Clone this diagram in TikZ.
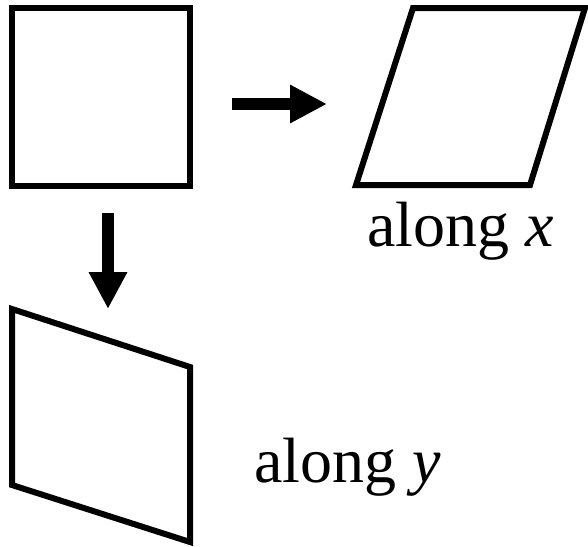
\documentclass[tikz,border=0pt]{standalone}
\usepackage{fontspec}
\setmainfont{Liberation Serif}
\usetikzlibrary{arrows.meta}

\tikzset{
  outline/.style={draw=black, line width=3pt, line join=miter},
  sheararrow/.style={line width=6pt, -{Triangle[length=18.5pt, width=18pt]}},
  caption/.style={anchor=base west, inner sep=0pt, font=\fontsize{32}{38}\selectfont}
}

\begin{document}
\begin{tikzpicture}[x=0.5pt, y=-0.5pt]
        \useasboundingbox (0,0) rectangle (588,546);
        % original square
        \draw[outline] (12,8) -- (190,8) -- (190,186) -- (12,186) -- cycle;
        % sheared along x
        \draw[outline] (413,8) -- (585,8) -- (530,185) -- (356,185) -- cycle;
        % sheared along y
        \draw[outline] (12,309) -- (190,367) -- (190,542) -- (12,485) -- cycle;
        % arrows
        \coordinate (xfrom) at (232,104);
        \coordinate (xto)   at (327,104);
        \coordinate (yfrom) at (108,213);
        \coordinate (yto)   at (108,309);
        \draw[sheararrow] (xfrom) -- (xto);
        \draw[sheararrow] (yfrom) -- (yto);
        % labels
        \node[caption] (alongx) at (367,246) {along \textit{x}};
        \node[caption] (alongy) at (254,482) {along \textit{y}};
      \end{tikzpicture}
\end{document}
